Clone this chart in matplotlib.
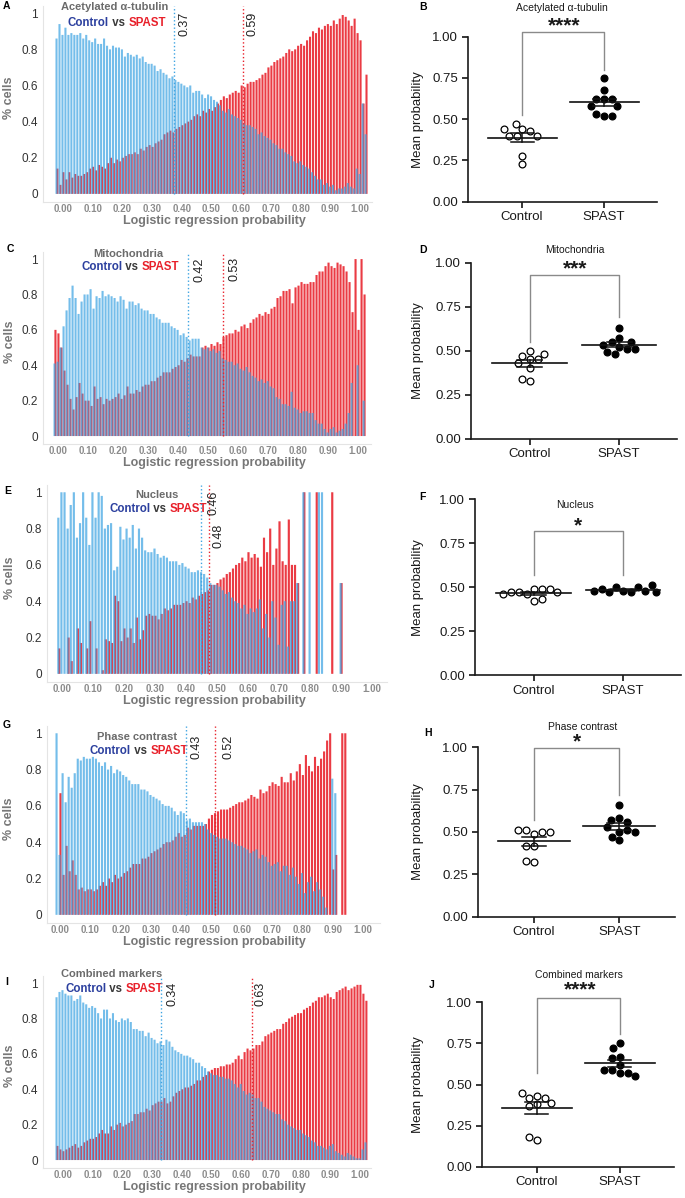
import numpy as np
import matplotlib.pyplot as plt

plt.rcParams['font.family'] = ['Liberation Sans', 'DejaVu Sans']

FIG_W, FIG_H = 685, 1198

# histogram bins of the logistic regression probability
bins = np.round(np.arange(-0.02, 1.025, 0.01), 2)
tick_vals = np.round(np.arange(0, 1.01, 0.1), 2)

# ---- A: acetylated alpha-tubulin (fraction of cells per bin)
tub_control = [
    0.86, 0.94, 0.88, 0.92, 0.88, 0.89, 0.88, 0.88, 0.89, 0.86,
    0.88, 0.85, 0.84, 0.86, 0.83, 0.83, 0.86, 0.82, 0.80, 0.82,
    0.81, 0.81, 0.80, 0.76, 0.78, 0.77, 0.76, 0.77, 0.75, 0.76,
    0.73, 0.72, 0.72, 0.71, 0.68, 0.69, 0.67, 0.66, 0.64, 0.65,
    0.63, 0.62, 0.61, 0.60, 0.59, 0.60, 0.56, 0.57, 0.57, 0.55,
    0.53, 0.55, 0.54, 0.52, 0.51, 0.49, 0.46, 0.45, 0.47, 0.44,
    0.43, 0.42, 0.41, 0.39, 0.38, 0.38, 0.37, 0.36, 0.33, 0.34,
    0.32, 0.31, 0.30, 0.28, 0.27, 0.25, 0.25, 0.23, 0.22, 0.21,
    0.18, 0.17, 0.18, 0.16, 0.15, 0.14, 0.12, 0.10, 0.08, 0.08,
    0.05, 0.06, 0.04, 0.05, 0.02, 0.03, 0.03, 0.04, 0.06, 0.04,
    0.03, 0.14, 0.11, 0.50, 0.33]
tub_spast = [
    0.14, 0.05, 0.12, 0.08, 0.12, 0.09, 0.11, 0.10, 0.10, 0.11,
    0.12, 0.14, 0.15, 0.13, 0.16, 0.15, 0.14, 0.17, 0.20, 0.17,
    0.19, 0.18, 0.20, 0.21, 0.22, 0.22, 0.23, 0.22, 0.25, 0.24,
    0.26, 0.27, 0.26, 0.28, 0.29, 0.30, 0.33, 0.34, 0.35, 0.34,
    0.36, 0.37, 0.38, 0.39, 0.40, 0.41, 0.43, 0.44, 0.43, 0.46,
    0.45, 0.47, 0.46, 0.48, 0.50, 0.52, 0.54, 0.53, 0.55, 0.56,
    0.57, 0.56, 0.60, 0.59, 0.61, 0.62, 0.62, 0.63, 0.64, 0.66,
    0.67, 0.70, 0.71, 0.73, 0.74, 0.75, 0.76, 0.78, 0.80, 0.79,
    0.80, 0.82, 0.83, 0.82, 0.85, 0.87, 0.90, 0.89, 0.92, 0.91,
    0.93, 0.94, 0.93, 0.96, 0.94, 0.97, 0.99, 0.98, 0.96, 0.93,
    0.97, 0.89, 0.85, 0.50, 0.66]

# ---- C: mitochondria
mito_control = [
    0.00, 0.41, 0.42, 0.50, 0.62, 0.71, 0.78, 0.85, 0.78, 0.69,
    0.76, 0.80, 0.80, 0.83, 0.72, 0.79, 0.78, 0.82, 0.79, 0.80,
    0.79, 0.78, 0.76, 0.79, 0.77, 0.72, 0.76, 0.76, 0.74, 0.75,
    0.72, 0.71, 0.71, 0.69, 0.69, 0.67, 0.66, 0.64, 0.64, 0.64,
    0.62, 0.61, 0.60, 0.57, 0.58, 0.56, 0.54, 0.55, 0.55, 0.55,
    0.50, 0.49, 0.50, 0.48, 0.49, 0.47, 0.48, 0.44, 0.43, 0.42,
    0.42, 0.40, 0.41, 0.38, 0.37, 0.39, 0.36, 0.34, 0.33, 0.31,
    0.32, 0.30, 0.31, 0.28, 0.27, 0.22, 0.21, 0.18, 0.18, 0.17,
    0.25, 0.16, 0.15, 0.13, 0.14, 0.14, 0.13, 0.13, 0.09, 0.07,
    0.07, 0.04, 0.02, 0.04, 0.05, 0.02, 0.03, 0.04, 0.07, 0.13,
    0.30, 0.00, 0.40, 0.00, 0.20]
mito_spast = [
    0.00, 0.60, 0.58, 0.50, 0.37, 0.29, 0.21, 0.15, 0.22, 0.30,
    0.24, 0.20, 0.20, 0.17, 0.28, 0.21, 0.22, 0.18, 0.21, 0.20,
    0.21, 0.22, 0.24, 0.21, 0.23, 0.28, 0.24, 0.24, 0.26, 0.25,
    0.28, 0.29, 0.29, 0.31, 0.31, 0.33, 0.34, 0.36, 0.36, 0.36,
    0.38, 0.39, 0.40, 0.43, 0.42, 0.44, 0.46, 0.45, 0.45, 0.45,
    0.50, 0.51, 0.50, 0.52, 0.51, 0.53, 0.52, 0.56, 0.57, 0.58,
    0.58, 0.60, 0.59, 0.62, 0.63, 0.61, 0.64, 0.66, 0.67, 0.69,
    0.68, 0.70, 0.69, 0.72, 0.73, 0.78, 0.79, 0.82, 0.82, 0.83,
    0.75, 0.84, 0.85, 0.87, 0.86, 0.86, 0.87, 0.87, 0.91, 0.93,
    0.93, 0.96, 0.98, 0.96, 0.95, 0.98, 0.97, 0.96, 0.93, 0.87,
    0.70, 1.00, 0.60, 1.00, 0.80]

# ---- E: nucleus
nuc_control = [
    0.00, 0.86, 1.00, 1.00, 0.80, 0.93, 1.00, 0.75, 0.83, 1.00,
    0.86, 0.71, 1.00, 0.86, 1.00, 0.98, 0.80, 0.82, 0.83, 0.57,
    0.59, 0.81, 0.74, 0.80, 0.75, 0.82, 0.69, 0.80, 0.75, 0.68,
    0.67, 0.67, 0.69, 0.66, 0.64, 0.65, 0.64, 0.62, 0.62, 0.62,
    0.60, 0.61, 0.59, 0.58, 0.56, 0.56, 0.57, 0.56, 0.55, 0.53,
    0.50, 0.49, 0.49, 0.48, 0.46, 0.44, 0.45, 0.42, 0.40, 0.39,
    0.36, 0.38, 0.33, 0.36, 0.34, 0.36, 0.41, 0.25, 0.33, 0.20,
    0.40, 0.31, 0.16, 0.38, 0.40, 0.15, 0.40, 0.40, 0.50, 0.00,
    1.00, 0.00, 1.00, 0.00, 0.00, 1.00, 1.00, 0.00, 0.00, 0.00,
    0.00, 0.00, 0.50, 0.00, 0.00, 0.00, 0.00, 0.00, 0.00, 0.00,
    0.00, 0.00, 0.00, 0.00, 0.00]
nuc_spast = [
    0.00, 0.14, 0.00, 0.00, 0.20, 0.07, 0.00, 0.25, 0.17, 0.00,
    0.14, 0.29, 0.00, 0.14, 0.00, 0.02, 0.19, 0.18, 0.17, 0.43,
    0.40, 0.18, 0.25, 0.20, 0.25, 0.17, 0.31, 0.19, 0.24, 0.32,
    0.33, 0.32, 0.32, 0.30, 0.33, 0.36, 0.35, 0.36, 0.38, 0.38,
    0.38, 0.39, 0.40, 0.39, 0.42, 0.41, 0.43, 0.44, 0.45, 0.46,
    0.49, 0.49, 0.50, 0.52, 0.53, 0.55, 0.56, 0.58, 0.60, 0.61,
    0.64, 0.62, 0.67, 0.64, 0.66, 0.64, 0.59, 0.75, 0.67, 0.80,
    0.60, 0.69, 0.84, 0.62, 0.60, 0.85, 0.60, 0.60, 0.50, 0.00,
    1.00, 0.00, 0.00, 0.00, 1.00, 0.00, 0.00, 0.00, 0.00, 1.00,
    0.00, 0.00, 0.50, 0.00, 0.00, 0.00, 0.00, 0.00, 0.00, 0.00,
    0.00, 0.00, 0.00, 0.00, 0.00]

# ---- G: phase contrast
phase_control = [
    0.00, 1.00, 0.33, 0.78, 0.62, 0.76, 0.70, 0.78, 0.86, 0.85,
    0.87, 0.86, 0.86, 0.87, 0.86, 0.84, 0.82, 0.84, 0.80, 0.82,
    0.78, 0.80, 0.79, 0.77, 0.76, 0.74, 0.72, 0.72, 0.72, 0.69,
    0.69, 0.68, 0.66, 0.65, 0.64, 0.63, 0.61, 0.60, 0.60, 0.59,
    0.57, 0.55, 0.57, 0.56, 0.52, 0.53, 0.51, 0.51, 0.51, 0.51,
    0.50, 0.47, 0.45, 0.44, 0.43, 0.42, 0.42, 0.42, 0.41, 0.40,
    0.39, 0.38, 0.38, 0.37, 0.36, 0.34, 0.35, 0.36, 0.31, 0.33,
    0.32, 0.29, 0.27, 0.28, 0.29, 0.24, 0.27, 0.27, 0.22, 0.26,
    0.21, 0.17, 0.23, 0.12, 0.18, 0.21, 0.13, 0.18, 0.14, 0.10,
    0.04, 0.00, 0.75, 0.67, 0.00, 0.00, 0.00, 0.00, 0.00, 0.00,
    0.00, 0.00, 0.00, 0.00, 0.00]
phase_spast = [
    0.00, 0.00, 0.67, 0.22, 0.38, 0.24, 0.30, 0.22, 0.14, 0.15,
    0.13, 0.14, 0.14, 0.13, 0.14, 0.16, 0.18, 0.16, 0.20, 0.18,
    0.22, 0.20, 0.21, 0.23, 0.24, 0.26, 0.28, 0.28, 0.28, 0.31,
    0.31, 0.32, 0.34, 0.35, 0.36, 0.37, 0.39, 0.40, 0.40, 0.41,
    0.43, 0.45, 0.43, 0.44, 0.48, 0.47, 0.49, 0.49, 0.49, 0.49,
    0.50, 0.53, 0.55, 0.56, 0.57, 0.58, 0.58, 0.58, 0.59, 0.60,
    0.61, 0.62, 0.62, 0.63, 0.64, 0.66, 0.65, 0.64, 0.69, 0.67,
    0.68, 0.71, 0.73, 0.72, 0.71, 0.76, 0.73, 0.73, 0.78, 0.74,
    0.79, 0.83, 0.77, 0.88, 0.82, 0.79, 0.87, 0.82, 0.86, 0.90,
    0.96, 1.00, 0.25, 0.33, 0.00, 1.00, 1.00, 0.00, 0.00, 0.00,
    0.00, 0.00, 0.00, 0.00, 0.00]

# ---- I: combined markers
comb_control = [
    0.92, 0.95, 0.96, 0.94, 0.93, 0.93, 0.90, 0.91, 0.93, 0.89,
    0.88, 0.86, 0.87, 0.86, 0.83, 0.80, 0.85, 0.85, 0.80, 0.83,
    0.79, 0.78, 0.80, 0.79, 0.80, 0.78, 0.74, 0.74, 0.73, 0.73,
    0.70, 0.72, 0.69, 0.68, 0.66, 0.67, 0.65, 0.68, 0.67, 0.64,
    0.62, 0.61, 0.60, 0.59, 0.59, 0.58, 0.57, 0.55, 0.55, 0.53,
    0.52, 0.50, 0.49, 0.48, 0.48, 0.47, 0.47, 0.46, 0.46, 0.45,
    0.43, 0.41, 0.43, 0.39, 0.37, 0.38, 0.37, 0.35, 0.35, 0.33,
    0.30, 0.29, 0.28, 0.27, 0.26, 0.26, 0.23, 0.22, 0.20, 0.19,
    0.18, 0.17, 0.17, 0.15, 0.14, 0.13, 0.11, 0.10, 0.08, 0.08,
    0.07, 0.06, 0.08, 0.09, 0.05, 0.04, 0.03, 0.02, 0.04, 0.03,
    0.02, 0.01, 0.01, 0.06, 0.10]
comb_spast = [
    0.08, 0.06, 0.05, 0.06, 0.07, 0.08, 0.09, 0.07, 0.08, 0.10,
    0.11, 0.12, 0.12, 0.13, 0.15, 0.17, 0.15, 0.15, 0.19, 0.17,
    0.20, 0.21, 0.19, 0.20, 0.21, 0.22, 0.26, 0.26, 0.27, 0.27,
    0.29, 0.28, 0.31, 0.32, 0.33, 0.33, 0.35, 0.32, 0.33, 0.36,
    0.38, 0.39, 0.40, 0.41, 0.41, 0.42, 0.43, 0.45, 0.45, 0.47,
    0.48, 0.50, 0.51, 0.52, 0.52, 0.53, 0.53, 0.54, 0.54, 0.55,
    0.57, 0.59, 0.57, 0.61, 0.63, 0.62, 0.63, 0.65, 0.65, 0.67,
    0.70, 0.71, 0.72, 0.73, 0.74, 0.74, 0.77, 0.78, 0.80, 0.81,
    0.82, 0.83, 0.83, 0.85, 0.86, 0.87, 0.89, 0.90, 0.92, 0.92,
    0.93, 0.94, 0.92, 0.91, 0.95, 0.96, 0.97, 0.98, 0.96, 0.97,
    0.98, 0.99, 0.99, 0.94, 0.90]

# ---- per-replicate mean probabilities (B, D, F, H, J)
tub_ctrl_pts = [0.44, 0.47, 0.40, 0.43, 0.40, 0.40, 0.44, 0.28, 0.23]
tub_spast_pts = [0.75, 0.68, 0.62, 0.62, 0.62, 0.58, 0.58, 0.52, 0.53, 0.52]
mito_ctrl_pts = [0.50, 0.45, 0.47, 0.45, 0.48, 0.43, 0.40, 0.33, 0.34]
mito_spast_pts = [0.52, 0.48, 0.57, 0.63, 0.51, 0.55, 0.49, 0.55, 0.51, 0.53]
nuc_ctrl_pts = [0.49, 0.46, 0.42, 0.49, 0.47, 0.49, 0.43, 0.47, 0.47, 0.46]
nuc_spast_pts = [0.48, 0.50, 0.47, 0.50, 0.47, 0.49, 0.48, 0.48, 0.51, 0.47]
phase_ctrl_pts = [0.49, 0.51, 0.50, 0.51, 0.50, 0.42, 0.42, 0.32, 0.33]
phase_spast_pts = [0.66, 0.58, 0.57, 0.56, 0.50, 0.53, 0.51, 0.50, 0.45, 0.47]
comb_ctrl_pts = [0.43, 0.38, 0.42, 0.42, 0.37, 0.45, 0.39, 0.16, 0.18]
comb_spast_pts = [0.75, 0.72, 0.67, 0.66, 0.62, 0.57, 0.59, 0.57, 0.59, 0.55]

groups = ['Control', 'SPAST']
y_ticks = [0, 0.25, 0.5, 0.75, 1.0]

BLUE = '#3ea4e2'
RED = '#e8202a'
CTRL_TXT = '#2b3f9e'
GREY_TXT = '#6b6b6b'


def fx(px):
    return px / FIG_W


def fy(py):
    return 1 - py / FIG_H


def axes_px(fig, left, top, right, bottom):
    return fig.add_axes([left / FIG_W, 1 - bottom / FIG_H,
                         (right - left) / FIG_W, (bottom - top) / FIG_H])


def hist_panel(fig, p):
    left, top, right, bottom = p['box']
    ax = axes_px(fig, *p['box'])
    ax.bar(bins + 0.0015, p['spast'], width=0.007, color=RED, alpha=0.88,
           linewidth=0, zorder=2, snap=False)
    ax.bar(bins - 0.0015, p['control'], width=0.007, color=BLUE, alpha=0.72,
           linewidth=0, zorder=3, snap=False)
    for x, c in p['lines']:
        ax.plot([x, x], [0, 1.04], ls=':', lw=1, color=c, zorder=4)
    for txt, x, y in p['labels']:
        ax.text(x, y, txt, rotation=90, ha='left', va='top', fontsize=9,
                color='#222222', zorder=5)
    ax.set_xlim(*p['xlim'])
    ax.set_ylim(-0.045, 1.04)
    ax.set_xticks(tick_vals)
    ax.set_xticklabels([f'{t:.2f}' for t in tick_vals], fontsize=7,
                       fontweight='bold', color='#8c8c8c')
    ax.set_yticks([0, 0.2, 0.4, 0.6, 0.8, 1.0])
    ax.set_yticklabels(['0', '0.2', '0.4', '0.6', '0.8', '1'], fontsize=8.5,
                       color='#333333')
    ax.tick_params(axis='y', length=0, pad=3.5)
    ax.tick_params(axis='x', length=0, pad=1.5)
    for s in ['top', 'right']:
        ax.spines[s].set_visible(False)
    for s in ['left', 'bottom']:
        ax.spines[s].set_color('#e4e4e4')
        ax.spines[s].set_linewidth(0.8)
    h = bottom - top
    w = right - left
    ax.set_xlabel('Logistic regression probability', fontsize=9,
                  fontweight='bold', color='#777777')
    ax.xaxis.set_label_coords((214 - left) / w, -13 / h)
    ax.set_ylabel('% cells', fontsize=9, fontweight='bold', color='#777777')
    ax.yaxis.set_label_coords((15.5 - left) / w, 0.53)

    tx, ty = p['title_xy']
    fig.text(fx(tx), fy(ty), p['title'], ha='center', va='center', fontsize=8,
             fontweight='bold', color=GREY_TXT)
    lx, ly = p['legend_xy']
    kw = dict(fontsize=8.3, fontweight='bold')
    t1 = fig.text(fx(lx), fy(ly), 'Control', ha='left', va='center',
                  color=CTRL_TXT, **kw)
    t2 = ax.annotate(' vs ', xy=(1, 0), xycoords=t1, ha='left', va='bottom',
                     color='#3a3a3a', annotation_clip=False, **kw)
    ax.annotate('SPAST', xy=(1, 0), xycoords=t2, ha='left', va='bottom',
                color=RED, annotation_clip=False, **kw)
    fig.text(fx(p['letter'][0]), fy(p['letter'][1]), p['name'], ha='center',
             va='center', fontsize=7.5, fontweight='bold')


def swarm(values, px_x, px_y, diam=8.0):
    placed, offs = [], []
    cands = sorted(np.arange(-60, 60.5, 0.5), key=abs)
    for v in values:
        y = v * px_y
        for c in cands:
            if all((c - a) ** 2 + (y - b) ** 2 >= diam ** 2 for a, b in placed):
                break
        placed.append((c, y))
        offs.append(c / px_x)
    return np.array(offs)


def scatter_panel(fig, p):
    left, top, right, bottom = p['box']
    ax = axes_px(fig, *p['box'])
    xlim = (-0.66, 1.65)
    px_x = (right - left) / (xlim[1] - xlim[0])
    px_y = bottom - top
    for i, (pts, face) in enumerate([(p['ctrl'], 'white'), (p['spast'], 'black')]):
        pts = np.array(pts)
        offs = swarm(pts, px_x, px_y)
        ax.scatter(i + offs, pts, s=24, facecolor=face, edgecolor='black',
                   linewidth=0.9, zorder=3, clip_on=False)
        m = pts.mean()
        sem = pts.std(ddof=1) / np.sqrt(len(pts))
        ax.plot([i - 0.42, i + 0.42], [m, m], color='#111111', lw=1.2, zorder=4)
        ax.plot([i, i], [m - sem, m + sem], color='#111111', lw=1.1, zorder=4)
        for e in (m - sem, m + sem):
            ax.plot([i - 0.14, i + 0.14], [e, e], color='#111111', lw=1.1, zorder=4)
    lb, tp, rb = p['bracket']
    ax.plot([0, 0, 1, 1], [lb, tp, tp, rb], color='#8a8a8a', lw=1,
            clip_on=False, zorder=2)
    ax.set_xlim(*xlim)
    ax.set_ylim(0, 1)
    ax.set_xticks([0, 1])
    ax.set_xticklabels(groups, fontsize=9.5, color='#1a1a1a')
    ax.set_yticks(y_ticks)
    ax.set_yticklabels([f'{t:.2f}' for t in y_ticks], fontsize=9.5,
                       color='#1a1a1a')
    ax.tick_params(direction='out', length=4.5, width=1.1, pad=2.5)
    for s in ['top', 'right']:
        ax.spines[s].set_visible(False)
    for s in ['left', 'bottom']:
        ax.spines[s].set_linewidth(1.2)
        ax.spines[s].set_color('#1a1a1a')
    ax.set_ylabel('Mean probability', fontsize=9.5, color='#1a1a1a')
    ax.yaxis.set_label_coords((424 - left) / (right - left), 0.5)

    tx, ty = p['title_xy']
    fig.text(fx(tx), fy(ty), p['title'], ha='center', va='center',
             fontsize=7.5, color='#1a1a1a')
    sx, sy = p['stars_xy']
    fig.text(fx(sx), fy(sy + 9.5), p['stars'], ha='center', va='baseline',
             fontsize=15, fontweight='bold', color='#1a1a1a')
    fig.text(fx(p['letter'][0]), fy(p['letter'][1]), p['name'], ha='center',
             va='center', fontsize=7.5, fontweight='bold')


hist_panels = [
    dict(name='A', control=tub_control, spast=tub_spast,
         box=(43, 6, 372, 202), xlim=(-0.067, 1.040),
         lines=[(0.375, BLUE), (0.607, RED)],
         labels=[('0.37', 0.390, 1.007), ('0.59', 0.619, 1.007)],
         title='Acetylated α-tubulin', title_xy=(115, 7.5),
         legend_xy=(68, 22.5), letter=(6, 6)),
    dict(name='C', control=mito_control, spast=mito_spast,
         box=(43, 252, 371, 444), xlim=(-0.050, 1.043),
         lines=[(0.433, BLUE), (0.550, RED)],
         labels=[('0.42', 0.450, 1.010), ('0.53', 0.567, 1.010)],
         title='Mitochondria', title_xy=(128, 254),
         legend_xy=(81, 267.5), letter=(10, 249)),
    dict(name='E', control=nuc_control, spast=nuc_spast,
         box=(47, 485, 387, 682), xlim=(-0.048, 1.048),
         lines=[(0.450, BLUE), (0.474, RED)],
         labels=[('0.46', 0.468, 1.010), ('0.48', 0.487, 0.828)],
         title='Nucleus', title_xy=(157, 495),
         legend_xy=(109, 509.5), letter=(8, 491)),
    dict(name='G', control=phase_control, spast=phase_spast,
         box=(47, 726, 380, 923), xlim=(-0.043, 1.056),
         lines=[(0.415, BLUE), (0.512, RED)],
         labels=[('0.43', 0.429, 0.990), ('0.52', 0.535, 0.990)],
         title='Phase contrast', title_xy=(137, 737),
         legend_xy=(90, 751), letter=(7, 725)),
    dict(name='I', control=comb_control, spast=comb_spast,
         box=(43, 976, 371, 1168), xlim=(-0.067, 1.037),
         lines=[(0.330, BLUE), (0.635, RED)],
         labels=[('0.34', 0.350, 1.007), ('0.63', 0.646, 1.007)],
         title='Combined markers', title_xy=(112, 974),
         legend_xy=(65, 988.5), letter=(7, 982)),
]

scatter_panels = [
    dict(name='B', ctrl=tub_ctrl_pts, spast=tub_spast_pts,
         box=(468, 36.7, 657.4, 201.7), bracket=(0.527, 1.03, 0.80),
         title='Acetylated α-tubulin', title_xy=(561.7, 8),
         stars='****', stars_xy=(564, 22), letter=(423, 7)),
    dict(name='D', ctrl=mito_ctrl_pts, spast=mito_spast_pts,
         box=(471, 262.7, 677, 438.7), bracket=(0.55, 0.928, 0.69),
         title='Mitochondria', title_xy=(575, 250.3),
         stars='***', stars_xy=(575, 265.3), letter=(423, 250)),
    dict(name='F', ctrl=nuc_ctrl_pts, spast=nuc_spast_pts,
         box=(475, 499.3, 681, 675), bracket=(0.57, 0.82, 0.57),
         title='Nucleus', title_xy=(575, 505),
         stars='*', stars_xy=(578, 521.7), letter=(422, 497)),
    dict(name='H', ctrl=phase_ctrl_pts, spast=phase_spast_pts,
         box=(477.7, 747.3, 674.7, 916.7), bracket=(0.57, 0.994, 0.72),
         title='Phase contrast', title_xy=(582.7, 726.7),
         stars='*', stars_xy=(576.7, 738), letter=(428, 733)),
    dict(name='J', ctrl=comb_ctrl_pts, spast=comb_spast_pts,
         box=(482, 1002.3, 673.7, 1166.7), bracket=(0.568, 1.028, 0.81),
         title='Combined markers', title_xy=(579, 975),
         stars='****', stars_xy=(580, 986), letter=(432, 985)),
]

fig = plt.figure(figsize=(FIG_W / 100, FIG_H / 100), dpi=100)
for p in hist_panels:
    hist_panel(fig, p)
for p in scatter_panels:
    scatter_panel(fig, p)

fig.savefig('out.png', dpi=100)
